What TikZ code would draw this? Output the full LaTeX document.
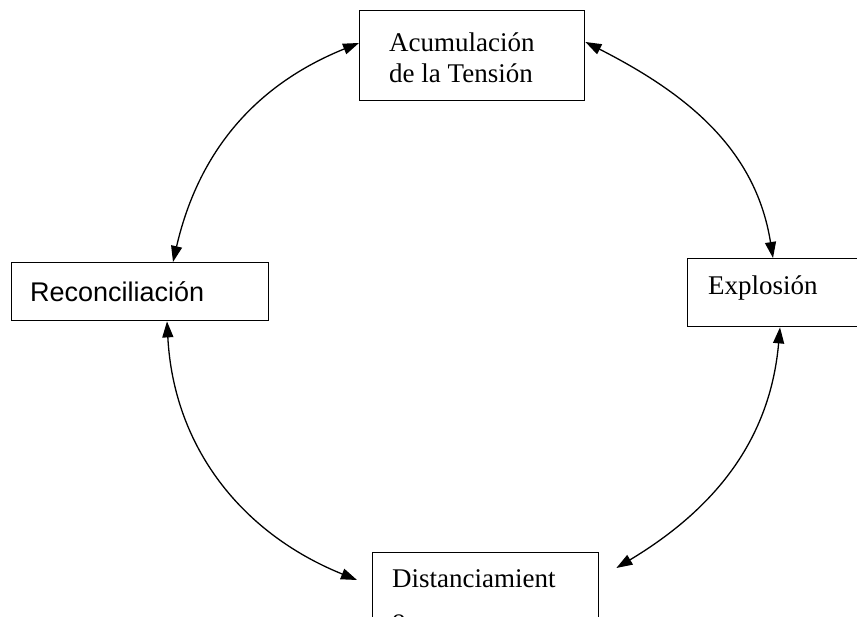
\documentclass[tikz,border=0pt]{standalone}
\usepackage{fontspec}
\setmainfont{Liberation Serif}
\newfontfamily\arialfont{Liberation Sans}
\usetikzlibrary{arrows.meta}
\begin{document}
\begin{tikzpicture}[x=1pt,y=1pt,
  boxst/.style={draw=black, line width=1.4pt, minimum width=#1, inner sep=0pt, anchor=north west},
  txtserif/.style={font=\fontsize{27}{31}\selectfont, inner sep=0pt, anchor=base west},
  txtsans/.style={font=\arialfont\fontsize{27}{31}\selectfont, inner sep=0pt, anchor=base west},
  cyc/.style={line width=1.3pt, {Triangle[length=16pt,width=11pt]}-{Triangle[length=16pt,width=11pt]}}
]
\clip (0,0) rectangle (857,617);
\fill[white] (0,0) rectangle (857,617);

% boxes
\node[boxst=225pt, minimum height=90pt] (acum) at (359,607) {};
\node[boxst=257pt, minimum height=58pt] (recon) at (11,355) {};
\node[boxst=200pt, minimum height=68pt] (expl) at (687,359) {};
\node[boxst=226pt, minimum height=110pt] (dist) at (372,65) {};

% texts
\node[txtserif] (acumA) at (389,565) {Acumulación};
\node[txtserif] (acumB) at (389,534) {de la Tensión};
\node[txtsans]  (reconT) at (30,315) {Reconciliación};
\node[txtserif] (explT) at (708,322) {Explosión};
\node[txtserif] (distA) at (392,29) {Distanciamient};
\node[txtserif] (distB) at (392,-11) {o};

% arrow ends near Distanciamiento
\coordinate (distR) at ([xshift=17pt,yshift=-16pt]dist.north east);
\coordinate (distL) at ([xshift=-15pt,yshift=-28pt]dist.north west);

% connectors
\draw[cyc] ([xshift=162pt]recon.north west) to[out=77,in=202] ([yshift=-33pt]acum.north west);
\draw[cyc] ([yshift=-32pt]acum.north east) to[out=-27,in=99] ([xshift=86pt]expl.north west);
\draw[cyc] ([xshift=93pt]expl.south west) to[out=-95,in=31] (distR);
\draw[cyc] ([xshift=156pt]recon.south west) to[out=-87,in=158] (distL);
\end{tikzpicture}
\end{document}
